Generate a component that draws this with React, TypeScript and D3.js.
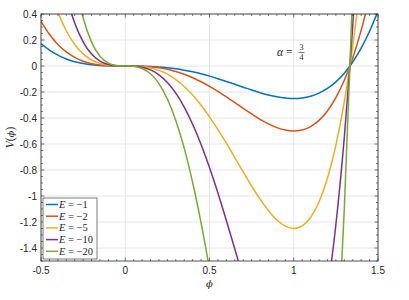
import React from 'react';
import * as d3 from 'd3';

// sample points along phi
const phi = [-0.5, -0.45, -0.4, -0.35, -0.3, -0.25, -0.2, -0.15, -0.1, -0.05, 0, 0.05, 0.1, 0.15, 0.2, 0.25, 0.3, 0.35, 0.4, 0.45, 0.5, 0.55, 0.6, 0.65, 0.7, 0.75, 0.8, 0.85, 0.9, 0.95, 1, 1.05, 1.1, 1.15, 1.2, 1.25, 1.3, 1.3333, 1.35, 1.4, 1.45, 1.5];

const vE1 = [0.172, 0.122, 0.083, 0.054, 0.033, 0.019, 0.009, 0.004, 0.001, 0, 0, 0, -0.001, -0.003, -0.007, -0.013, -0.021, -0.032, -0.045, -0.06, -0.078, -0.098, -0.119, -0.141, -0.163, -0.185, -0.205, -0.223, -0.237, -0.246, -0.25, -0.246, -0.233, -0.209, -0.173, -0.122, -0.055, 0, 0.031, 0.137, 0.267, 0.422];
const vE2 = [0.344, 0.244, 0.166, 0.108, 0.066, 0.037, 0.018, 0.008, 0.002, 0, 0, 0, -0.002, -0.006, -0.014, -0.025, -0.042, -0.063, -0.09, -0.121, -0.156, -0.195, -0.238, -0.281, -0.326, -0.369, -0.41, -0.445, -0.474, -0.493, -0.5, -0.492, -0.466, -0.418, -0.346, -0.244, -0.11, 0, 0.062, 0.274, 0.534, 0.844];
const vE5 = [0.859, 0.609, 0.416, 0.271, 0.165, 0.093, 0.046, 0.019, 0.005, 0.001, 0, -0.001, -0.005, -0.015, -0.034, -0.063, -0.105, -0.158, -0.224, -0.302, -0.391, -0.489, -0.594, -0.704, -0.815, -0.923, -1.024, -1.113, -1.185, -1.232, -1.25, -1.23, -1.165, -1.046, -0.864, -0.61, -0.275, 0, 0.154, 0.686, 1.334, 2.109];
const vE10 = [1.719, 1.219, 0.832, 0.541, 0.331, 0.186, 0.092, 0.038, 0.011, 0.001, 0, -0.001, -0.009, -0.03, -0.068, -0.127, -0.209, -0.316, -0.448, -0.604, -0.781, -0.977, -1.188, -1.407, -1.629, -1.846, -2.048, -2.226, -2.369, -2.465, -2.5, -2.46, -2.329, -2.091, -1.728, -1.221, -0.549, 0, 0.308, 1.372, 2.668, 4.219];
const vE20 = [3.438, 2.438, 1.664, 1.083, 0.662, 0.371, 0.184, 0.075, 0.022, 0.003, 0, -0.002, -0.019, -0.06, -0.136, -0.254, -0.419, -0.632, -0.896, -1.207, -1.563, -1.955, -2.376, -2.815, -3.259, -3.691, -4.096, -4.452, -4.739, -4.93, -5, -4.92, -4.659, -4.182, -3.456, -2.441, -1.099, 0, 0.615, 2.744, 5.335, 8.438];

const seriesLabels = ['\u22121', '\u22122', '\u22125', '\u221210', '\u221220'];
const seriesValues = [vE1, vE2, vE5, vE10, vE20];
const colors = ['#0072BD', '#D95319', '#EDB120', '#7E2F8E', '#77AC30'];

const xTicks = [-0.5, 0, 0.5, 1, 1.5];
const yTicks = [0.4, 0.2, 0, -0.2, -0.4, -0.6, -0.8, -1, -1.2, -1.4];

export default function App() {
    const W = 409;
    const H = 300;
    const left = 41, right = 378, top = 14, bottom = 261;
    const ink = '#262626';

    const x = d3.scaleLinear().domain([-0.5, 1.5]).range([left, right]);
    const y = d3.scaleLinear().domain([-1.5, 0.4]).range([bottom, top]);

    const line = d3.line<number>()
        .curve(d3.curveMonotoneX)
        .x((d, i) => x(phi[i]))
        .y((d) => y(d));

    const xMinor = d3.range(-0.5, 1.5001, 0.05);
    const yMinor = d3.range(-1.5, 0.4001, 0.05);
    const fmt = (v: number) => String(Math.round(v * 10) / 10);

    const sans = '"Liberation Sans", Arial, sans-serif';
    const serif = '"Liberation Serif", "Times New Roman", serif';
    const greek = '"DejaVu Serif", serif';

    return (
        <svg width={W} height={H} style={{ position: 'absolute', left: 0, top: 0, background: '#fff' }}>
            <defs>
                <clipPath id="plot">
                    <rect x={left} y={top} width={right - left} height={bottom - top} />
                </clipPath>
            </defs>
            <rect x={left} y={top} width={right - left} height={bottom - top} fill="#fff" />

            {/* grid */}
            {xTicks.map((t) => (
                <line key={'gx' + t} x1={x(t)} x2={x(t)} y1={top} y2={bottom} stroke="#e6e6e6" strokeWidth={1} />
            ))}
            {yTicks.map((t) => (
                <line key={'gy' + t} x1={left} x2={right} y1={y(t)} y2={y(t)} stroke="#e6e6e6" strokeWidth={1} />
            ))}

            {/* curves */}
            <g clipPath="url(#plot)">
                {seriesValues.map((vals, i) => (
                    <path key={'s' + i} d={line(vals) || ''} fill="none" stroke={colors[i]} strokeWidth={1.5} />
                ))}
            </g>

            {/* ticks */}
            <g stroke={ink} strokeWidth={0.6}>
                {xMinor.map((t, i) => {
                    const major = xTicks.some((m) => Math.abs(m - t) < 1e-6);
                    const len = major ? 3.5 : 2;
                    return (
                        <g key={'xm' + i}>
                            <line x1={x(t)} x2={x(t)} y1={bottom} y2={bottom - len} />
                            <line x1={x(t)} x2={x(t)} y1={top} y2={top + len} />
                        </g>
                    );
                })}
                {yMinor.map((t, i) => {
                    const major = yTicks.some((m) => Math.abs(m - t) < 1e-6);
                    const len = major ? 3.5 : 2;
                    return (
                        <g key={'ym' + i}>
                            <line x1={left} x2={left + len} y1={y(t)} y2={y(t)} />
                            <line x1={right} x2={right - len} y1={y(t)} y2={y(t)} />
                        </g>
                    );
                })}
            </g>
            <rect x={left} y={top} width={right - left} height={bottom - top} fill="none" stroke={ink} strokeWidth={0.8} />

            {/* tick labels */}
            {xTicks.map((t) => (
                <text key={'xl' + t} x={x(t)} y={bottom + 13} textAnchor="middle" fontFamily={sans} fontSize={10} fill={ink}>{fmt(t)}</text>
            ))}
            {yTicks.map((t) => (
                <text key={'yl' + t} x={left - 4} y={y(t) + 3.5} textAnchor="end" fontFamily={sans} fontSize={10} fill={ink}>{fmt(t)}</text>
            ))}

            {/* axis labels */}
            <text x={x(0.5)} y={287} textAnchor="middle" fontFamily={greek} fontStyle="italic" fontSize={10} fill={ink}>{'\u03D5'}</text>
            <text transform={`translate(14, ${y(-0.55)}) rotate(-90)`} textAnchor="middle" fontFamily={serif} fontSize={11.5} fill={ink}>
                <tspan fontStyle="italic">V</tspan>(<tspan fontFamily={greek} fontStyle="italic" fontSize={10}>{'\u03D5'}</tspan>)
            </text>

            {/* alpha annotation */}
            <text x={277} y={56} fontFamily={serif} fontSize={11.5} fill={ink} xmlSpace="preserve">
                <tspan fontStyle="italic">α</tspan>{' = '}
            </text>
            <text x={301.5} y={50} textAnchor="middle" fontFamily={serif} fontSize={8} fill={ink}>3</text>
            <line x1={298.5} x2={304.5} y1={52.5} y2={52.5} stroke={ink} strokeWidth={0.6} />
            <text x={301.5} y={60} textAnchor="middle" fontFamily={serif} fontSize={8} fill={ink}>4</text>

            {/* legend */}
            <g>
                <rect x={43} y={198} width={54} height={61} fill="#fff" stroke={ink} strokeWidth={0.6} />
                {seriesLabels.map((lab, i) => {
                    const cy = 204.5 + i * 11.7;
                    return (
                        <g key={'lg' + i}>
                            <line x1={46} x2={58} y1={cy} y2={cy} stroke={colors[i]} strokeWidth={1.5} />
                            <text x={59} y={cy + 3.5} fontFamily={serif} fontSize={10.5} fill={ink} xmlSpace="preserve">
                                <tspan fontStyle="italic">E</tspan>{' = '}{lab}
                            </text>
                        </g>
                    );
                })}
            </g>
        </svg>
    );
}
